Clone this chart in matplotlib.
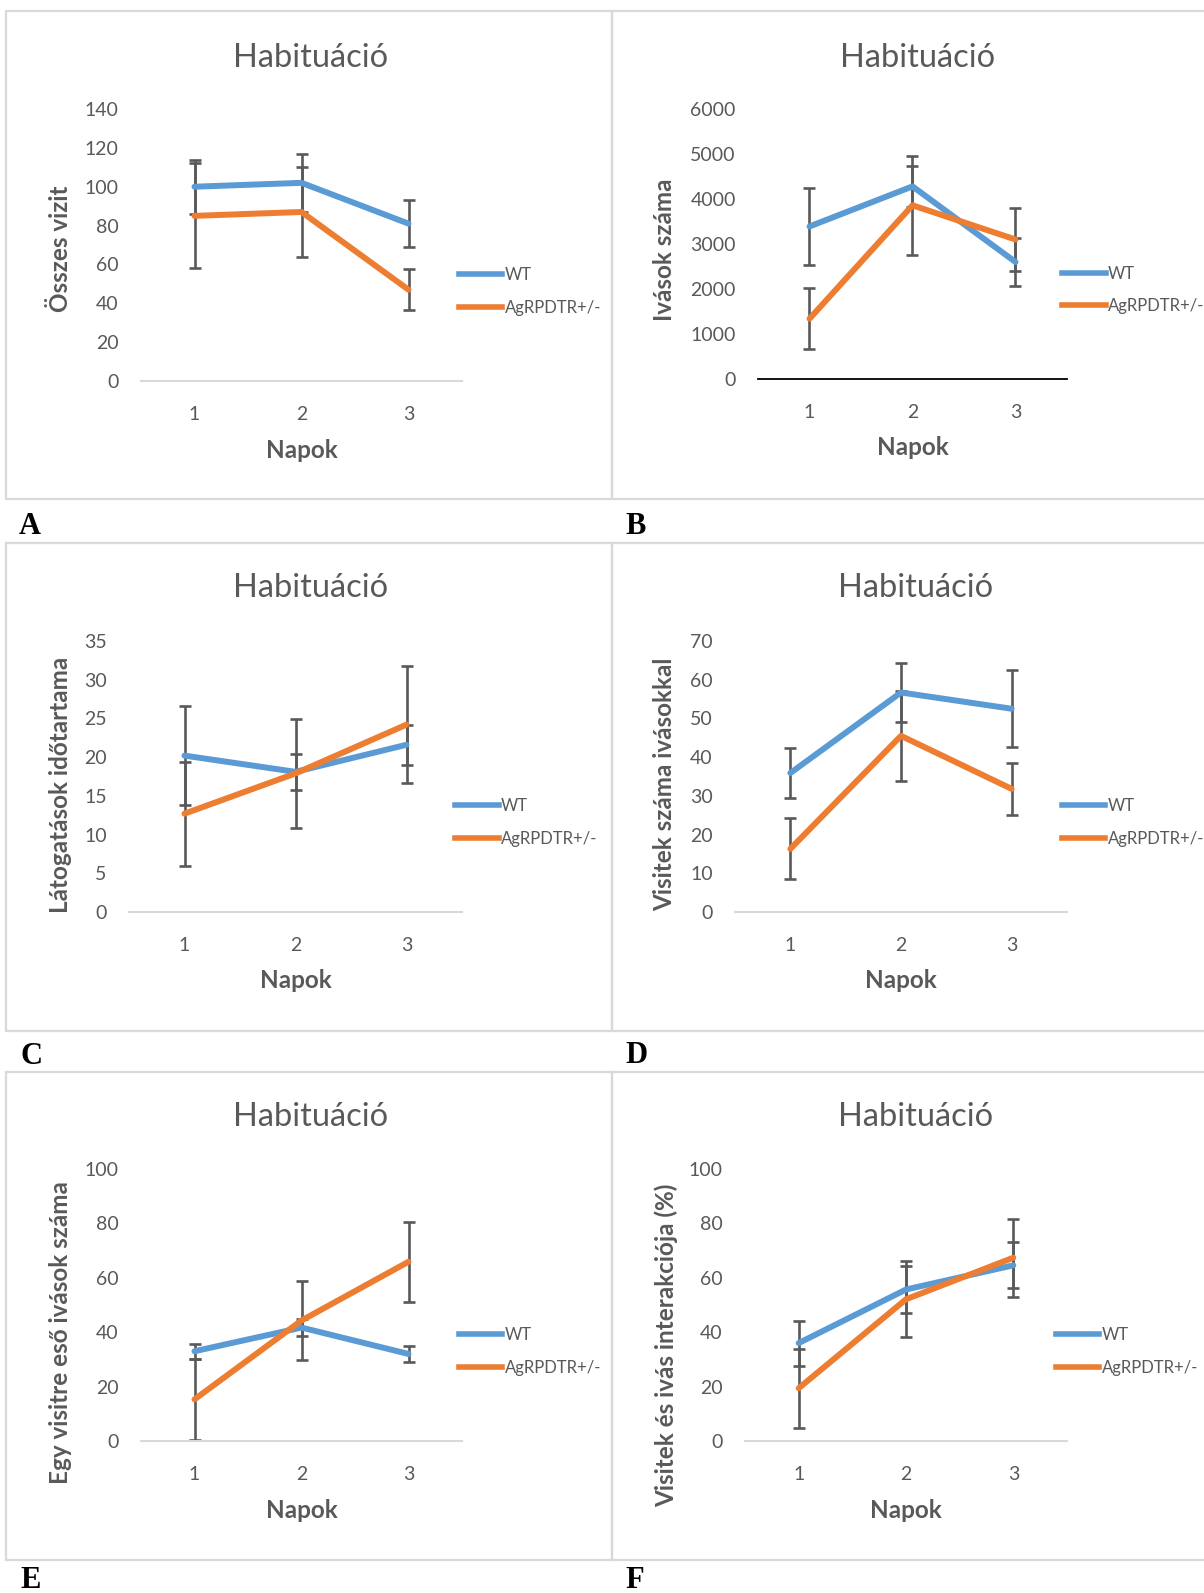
import matplotlib
matplotlib.use("Agg")
import matplotlib.pyplot as plt
from matplotlib.lines import Line2D
from matplotlib.patches import Rectangle

plt.rcParams['font.family'] = ['Lato', 'DejaVu Sans']

#data (means and error bar half-widths)
days = [1, 2, 3]
series_names = ["WT", "AgRPDTR+/-"]

# A - total visits
wt_a = [100, 102, 81]
wt_a_err = [14, 15, 12]
ag_a = [85, 87, 47]
ag_a_err = [27, 23, 10.5]

# B - number of drinks
wt_b = [3390, 4280, 2600]
wt_b_err = [865, 455, 525]
ag_b = [1340, 3860, 3100]
ag_b_err = [680, 1100, 705]

# C - visit duration
wt_c = [20.2, 18.1, 21.6]
wt_c_err = [6.4, 2.3, 2.6]
ag_c = [12.7, 17.9, 24.2]
ag_c_err = [6.7, 7.0, 7.6]

# D - visits with drinking
wt_d = [35.9, 56.7, 52.5]
wt_d_err = [6.4, 7.5, 10.0]
ag_d = [16.3, 45.5, 31.8]
ag_d_err = [7.9, 11.7, 6.7]

# E - drinks per visit
wt_e = [33.0, 41.7, 32.0]
wt_e_err = [2.8, 3.0, 2.8]
ag_e = [15.3, 44.3, 65.9]
ag_e_err = [15.0, 14.5, 14.7]

# F - visit / drink interaction (%)
wt_f = [36.0, 55.7, 64.6]
wt_f_err = [8.3, 8.6, 8.5]
ag_f = [19.4, 52.1, 67.4]
ag_f_err = [14.6, 14.0, 14.3]

y_labels = ["Összes vizit", "Ivások száma", "Látogatások időtartama",
            "Visitek száma ivásokkal", "Egy visitre eső ivások száma",
            "Visitek és ivás interakciója (%)"]
y_max = [140, 6000, 35, 70, 100, 100]
y_step = [20, 1000, 5, 10, 20, 20]
panel_letters = ["A", "B", "C", "D", "E", "F"]
title = "Habituáció"
x_label = "Napok"

W, H = 1204, 1593
BLUE = "#5B9BD5"
ORANGE = "#ED7D31"
GREY = "#595959"


def fx(px):
    return px / W


def fy(py):
    return 1 - py / H


fig = plt.figure(figsize=(W / 100, H / 100), dpi=100)

# axes rectangles in pixels: left, right, y of zero, y of top tick
axes_px = [
    (141, 462, 381, 109),
    (758, 1067, 379, 109),
    (129, 462, 912, 641),
    (735, 1067, 912, 641),
    (141, 462, 1441, 1169),
    (745, 1067, 1441, 1169),
]
ylabel_pos = [(-0.215, 0.485), (-0.264, 0.48), (-0.171, 0.47),
              (-0.177, 0.47), (-0.215, 0.40), (-0.208, 0.35)]
legend_x = [0.99, 0.985, 0.98, 0.985, 0.99, 0.965]
title_x = [311, 918, 311, 916, 311, 916]
title_base = [67, 67, 597, 597, 1126, 1126]
letter_x = [19, 625, 20, 625, 20, 625]
letter_base = [534, 534, 1064, 1063, 1588, 1588]
# panel boxes: left, top, right, bottom
boxes = [(6, 11, 612, 499), (612, 11, 1215, 499),
         (6, 543, 612, 1031), (612, 543, 1215, 1031),
         (6, 1072, 612, 1560), (612, 1072, 1215, 1560)]

data = [
    (wt_a, wt_a_err, ag_a, ag_a_err),
    (wt_b, wt_b_err, ag_b, ag_b_err),
    (wt_c, wt_c_err, ag_c, ag_c_err),
    (wt_d, wt_d_err, ag_d, ag_d_err),
    (wt_e, wt_e_err, ag_e, ag_e_err),
    (wt_f, wt_f_err, ag_f, ag_f_err),
]

for i in range(6):
    # light grey frame round each chart
    l, t, r, b = boxes[i]
    fig.patches.append(Rectangle((fx(l), fy(b)), fx(r - l), (b - t) / H,
                                 transform=fig.transFigure, fill=False,
                                 edgecolor="#d9d9d9", lw=1.6, zorder=0))

    left, right, y0, ytop = axes_px[i]
    ax = fig.add_axes([fx(left), fy(y0), fx(right - left), (y0 - ytop) / H])
    wt, wt_err, ag, ag_err = data[i]

    # error bars sit under the lines
    ax.errorbar(days, wt, yerr=wt_err, fmt='none', ecolor=GREY,
                elinewidth=1.9, capsize=4.3, capthick=1.9, zorder=2)
    ax.errorbar(days, ag, yerr=ag_err, fmt='none', ecolor=GREY,
                elinewidth=1.9, capsize=4.3, capthick=1.9, zorder=2)
    ax.plot(days, wt, color=BLUE, lw=4.3, solid_capstyle='round', zorder=3)
    ax.plot(days, ag, color=ORANGE, lw=4.3, solid_capstyle='round', zorder=4)

    ax.set_xlim(0.5, 3.5)
    ax.set_ylim(0, y_max[i])
    ax.set_xticks(days)
    ax.set_yticks(range(0, y_max[i] + 1, y_step[i]))

    for side in ["top", "right", "left"]:
        ax.spines[side].set_visible(False)
    if i == 1:
        ax.spines["bottom"].set_color("black")
        ax.spines["bottom"].set_linewidth(1.3)
    else:
        ax.spines["bottom"].set_color("#d9d9d9")
        ax.spines["bottom"].set_linewidth(1.5)

    ax.tick_params(axis="both", length=0, labelsize=14, labelcolor=GREY)
    ax.tick_params(axis="y", pad=16)
    ax.tick_params(axis="x", pad=18)
    ax.patch.set_alpha(0)

    ax.set_ylabel(y_labels[i], fontsize=17.5, fontweight="bold", color=GREY)
    ax.yaxis.set_label_coords(*ylabel_pos[i])
    ax.set_xlabel(x_label, fontsize=17.5, fontweight="bold", color=GREY)
    ax.xaxis.set_label_coords(0.5, -0.212)

    handles = [Line2D([], [], color=BLUE, lw=4.0),
               Line2D([], [], color=ORANGE, lw=4.0)]
    leg = ax.legend(handles, series_names, loc="center left",
                    bbox_to_anchor=(legend_x[i], 0.33), frameon=False,
                    fontsize=12, handlelength=2.6, handletextpad=0.15,
                    labelspacing=1.0, borderaxespad=0, borderpad=0)
    for txt in leg.get_texts():
        txt.set_color(GREY)

    fig.text(fx(title_x[i]), fy(title_base[i]), title, fontsize=23.5,
             color=GREY, ha="center", va="baseline")
    fig.text(fx(letter_x[i]), fy(letter_base[i]), panel_letters[i],
             fontsize=22, fontweight="bold", family="Liberation Serif",
             ha="left", va="baseline")

fig.savefig("out.png", dpi=100)
